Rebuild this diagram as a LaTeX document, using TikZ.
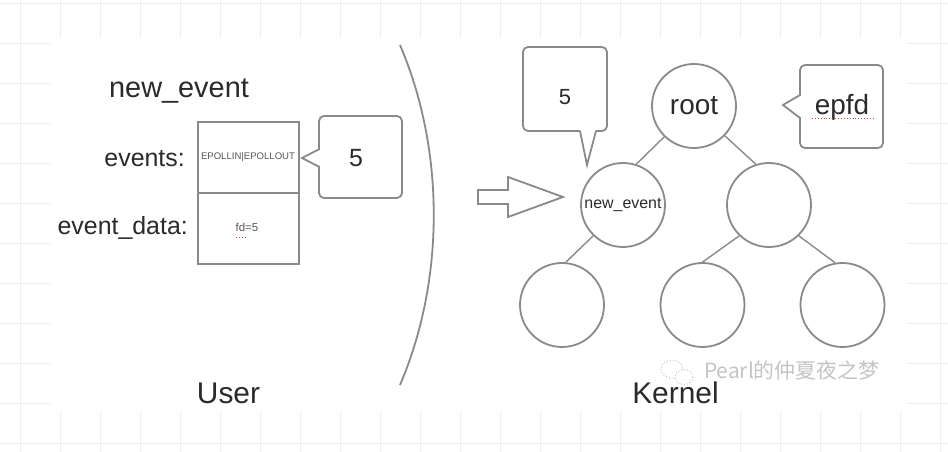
\documentclass[tikz,border=0pt]{standalone}
\usepackage{fontspec}
\setmainfont{Liberation Sans}
\newfontfamily\cjkfont{Noto Sans CJK SC}
\newcommand\myfs[1]{\fontsize{#1}{#1}\selectfont}
\definecolor{gridc}{HTML}{EEEEEE}
\definecolor{linec}{HTML}{8A8A8A}
\definecolor{txtc}{HTML}{2A2A2A}
\definecolor{smallc}{HTML}{555555}
\definecolor{wmc}{HTML}{C4C4C4}
\definecolor{spellc}{HTML}{D04040}
\begin{document}
\begin{tikzpicture}[x=1bp,y=-1bp,
  shape line/.style={draw=linec,line width=1.8bp},
  treenode/.style={shape line,circle,minimum size=84bp,inner sep=0pt,fill=white,text=txtc},
  box/.style={shape line,rectangle,minimum width=101bp,inner sep=0pt},
  callout/.style={shape line,rectangle,rounded corners=5bp,inner sep=0pt,fill=white},
  lbl/.style={text=txtc,inner sep=0pt},
  tinytxt/.style={text=smallc,inner sep=0pt},
  spell/.style={draw=spellc,dotted,line width=0.9bp},
  edge/.style={draw=linec,line width=1.4bp}]
\useasboundingbox (0,0) rectangle (948,452);
% background grid
\foreach \gx in {20,60,...,940} \draw[gridc,line width=0.8bp] (\gx,0) -- (\gx,452);
\foreach \gy in {3,43,...,443} \draw[gridc,line width=0.8bp] (0,\gy) -- (948,\gy);
\fill[white] (51,38) rectangle (907,412);

% ---- User side ----
\node[lbl,anchor=base,font=\myfs{29}] (title) at (179,98) {new\_event};
\node[lbl,anchor=base east,font=\myfs{25}] (evlbl) at (185,167) {events:};
\node[lbl,anchor=base east,font=\myfs{25}] (datalbl) at (188,235) {event\_data:};
\node[box,minimum height=71bp] (evbox) at (248.5,157.5) {};
\node[box,minimum height=71bp] (databox) at (248.5,228.5) {};
\node[tinytxt,anchor=base,font=\myfs{9.6}] (evtxt) at (248,160) {EPOLLIN|EPOLLOUT};
\node[tinytxt,anchor=base,font=\myfs{11.5}] (fdtxt) at (247,232) {fd=5};
\draw[spell] (236,237.5) -- (246,237.5);

% callout 5 (left)
\node[callout,minimum width=83bp,minimum height=82bp] (cbA) at (360.5,157) {};
\fill[white] (321,149) -- (302,158) -- (321,167) -- cycle;
\draw[shape line,line join=miter] (319.5,149) -- (302,158) -- (319.5,167);
\node[lbl,font=\myfs{25}] (cbAtxt) at (356,158) {5};

% separator arc
\draw[shape line] (400,45) .. controls (445,150) and (445,280) .. (400,385);

% block arrow
\draw[shape line,line join=miter,fill=white] (478,190) -- (508,190) -- (508,177) -- (563,197) -- (508,217) -- (508,204) -- (478,204) -- cycle;

% ---- Kernel side ----
\node[treenode,font=\myfs{28}] (root) at (694,106) {root};
\node[treenode,font=\myfs{16}] (ne) at (623,205) {new\_event};
\node[treenode] (rt) at (769,205) {};
\node[treenode] (bl) at (562,305) {};
\node[treenode] (bm) at (702.5,305) {};
\node[treenode] (br) at (842.5,305) {};
\draw[edge] (root.226) -- (ne.72);
\draw[edge] (root.-44) -- (rt.108);
\draw[edge] (ne.226) -- (bl.85);
\draw[edge] (rt.226) -- (bm.90);
\draw[edge] (rt.-46) -- (br.100);

% callout 5 (top)
\node[callout,minimum width=84bp,minimum height=84bp] (cbB) at (565,89) {};
\fill[white] (580,129) -- (587,165) -- (596,129) -- cycle;
\draw[shape line,line join=miter] (580,131) -- (587,165) -- (596,131);
\node[lbl,font=\myfs{22}] (cbBtxt) at (565,97) {5};

% callout epfd
\node[callout,minimum width=83bp,minimum height=83bp] (cbC) at (841.5,106.5) {};
\fill[white] (802,95) -- (783,105) -- (802,118) -- cycle;
\draw[shape line,line join=miter] (800,95) -- (783,105) -- (800,118);
\node[lbl,anchor=base,font=\myfs{28}] (cbCtxt) at (842,115) {epfd};
\draw[spell] (812,118.5) -- (873,118.5);

% bottom labels
\node[lbl,anchor=base,font=\myfs{30}] (userlbl) at (228.5,403) {User};
\node[lbl,anchor=base,font=\myfs{30}] (kernlbl) at (675.5,403) {Kernel};

% watermark
\draw[wmc,line width=1bp,dotted,fill=white] (672,369) ellipse (11 and 9);
\draw[wmc,line width=1bp,dotted,fill=white] (684,377) ellipse (9 and 7.5);
\node[anchor=base west,inner sep=0pt,text=wmc,font=\cjkfont\myfs{21}] (wm) at (704,379) {Pearl的仲夏夜之梦};
\end{tikzpicture}
\end{document}
